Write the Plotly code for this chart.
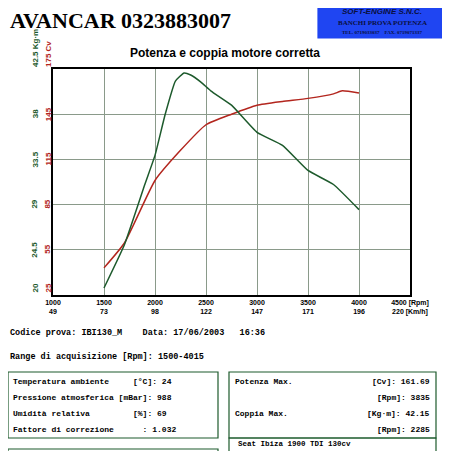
import plotly.graph_objects as go

# dati
rpm_cv = [1500, 1700, 2000, 2250, 2500, 2750, 3000, 3250, 3500, 3750, 3835, 4000]
potenza_cv = [43, 59.5, 101, 121, 138, 145, 151, 153.5, 155.5, 158.5, 160.5, 159]
rpm_kgm = [1500, 1700, 1900, 2000, 2100, 2200, 2285, 2350, 2450, 2550, 2750, 3000, 3250, 3500, 3750, 4000]
coppia_kgm = [20.7, 25, 31, 33.9, 38, 41.3, 42.1, 41.9, 41.2, 40.3, 38.9, 36.2, 34.9, 32.4, 31, 28.5]

x_ticks = [1000, 1500, 2000, 2500, 3000, 3500, 4000, 4500]
x_labels = ["1000<br>49", "1500<br>73", "2000<br>98", "2500<br>122", "3000<br>147",
            "3500<br>171", "4000<br>196", "4500 [Rpm]<br>220 [Km/h]"]
cv_ticks = [25, 55, 85, 115, 145, 175]
kgm_labels = ["20", "24.5", "29", "33.5", "38", "42.5 Kg·m"]

VERDE = "#1d5a2c"
ROSSO = "#b3261e"
MONO = "Liberation Mono"

fig = go.Figure()
fig.add_trace(go.Scatter(x=rpm_cv, y=potenza_cv, mode="lines", line=dict(color=ROSSO, width=1.5,
                         shape="spline", smoothing=0.5)))
fig.add_trace(go.Scatter(x=rpm_kgm, y=coppia_kgm, mode="lines", yaxis="y2",
                         line=dict(color=VERDE, width=1.5, shape="spline", smoothing=0.4)))

# la pagina ha un margine di 8px: si lavora in pixel della pagina e si sottrae
O = 8
FW, FH = 450 - O, 451 - O
L, T, W, H = 53, 69, 357, 226
def px(x): return (x - L) / W
def py(y): return (T + H - y) / H

fig.update_layout(
    width=FW, height=FH, showlegend=False,
    margin=dict(l=L - O, r=FW - (L - O) - W, t=T - O, b=FH - (T - O) - H),
    paper_bgcolor="white", plot_bgcolor="white",
    xaxis=dict(range=[1000, 4500], tickvals=x_ticks, ticktext=[f"<b>{t}</b>" for t in x_labels], showgrid=True,
               gridcolor="#8a9a8a", gridwidth=0.8, showline=True, linecolor="black", linewidth=1.5,
               mirror=True, tickfont=dict(family="Arial", size=7, color="black"), ticks=""),
    yaxis=dict(range=[25, 175], tickvals=cv_ticks, showticklabels=False, showgrid=True,
               gridcolor="#8a9a8a", gridwidth=0.8, showline=True, linecolor="black", linewidth=1.5,
               mirror=True, zeroline=False),
    yaxis2=dict(range=[20, 42.5], overlaying="y", visible=False),
)

anns = []
for v in cv_ticks:
    lab = f"{v} Cv" if v == 175 else str(v)
    anns.append(dict(x=px(48), y=v, xref="paper", yref="y", text=f"<b>{lab}</b>", textangle=-90, showarrow=False,
                     font=dict(family="Arial", size=8, color=ROSSO), xanchor="center",
                     yanchor="middle" if v not in (25, 175) else "bottom"))
for v, lab in zip(cv_ticks, kgm_labels):
    anns.append(dict(x=px(35), y=v, xref="paper", yref="y", text=f"<b>{lab}</b>", textangle=-90, showarrow=False,
                     font=dict(family="Arial", size=8, color=VERDE), xanchor="center",
                     yanchor="middle" if v not in (25, 175) else "bottom"))

def testo(x, y, t, size=8.5, **kw):
    anns.append(dict(x=px(x), y=py(y), xref="paper", yref="paper", text=t, showarrow=False,
                     xanchor=kw.get("xa", "left"), yanchor="middle",
                     font=dict(family=kw.get("fam", MONO), size=size, color=kw.get("col", "black"))))

testo(8, 20, "<b>AVANCAR 0323883007</b>", 22, fam="Liberation Serif")
testo(382, 12, "<b><i>SOFT-ENGINE S.N.C.</i></b>", 8, fam="Arial", xa="center", col="#0a1040")
testo(382, 23, "<b>BANCHI PROVA POTENZA</b>", 7, fam="Liberation Serif", xa="center", col="#0a1040")
testo(382, 32, "<b>TEL. 0719033037    FAX. 0719071337</b>", 5, fam="Liberation Serif", xa="center", col="#0a1040")
testo(225, 53, "<b>Potenza e coppia motore corretta</b>", 12, fam="Arial", xa="center")
testo(8, 333, "<b>Codice prova: IBI130_M    Data: 17/06/2003   16:36</b>")
testo(8, 357, "<b>Range di acquisizione [Rpm]: 1500-4015</b>")
sx = [("Temperatura ambiente     [°C]: 24", 381), ("Pressione atmosferica [mBar]: 988", 397),
      ("Umidità relativa         [%]: 69", 413), ("Fattore di correzione      : 1.032", 429)]
for t, y in sx:
    testo(11, y, f"<b>{t}</b>", 8)
dx = [("Potenza Max.", "[Cv]: 161.69", 381), ("", "[Rpm]: 3835", 397),
      ("Coppia Max.", "[Kg·m]: 42.15", 413), ("", "[Rpm]: 2285", 429)]
for a, b, y in dx:
    if a:
        testo(233, y, f"<b>{a}</b>", 8)
    testo(432, y, f"<b>{b}</b>", 8, xa="right")
testo(236, 444, "<b>Seat Ibiza 1900 TDI 130cv</b>", 7.5)
fig.update_layout(annotations=anns)

def box(x0, y0, x1, y1, fill="rgba(0,0,0,0)", lc=VERDE):
    fig.add_shape(type="rect", xref="paper", yref="paper", x0=px(x0), x1=px(x1), y0=py(y0), y1=py(y1),
                  line=dict(color=lc, width=1.2), fillcolor=fill, layer="below")

box(318, 3, 446, 38, fill="#1f45f2", lc="#1f45f2")
box(8, 372, 218, 438)
box(229, 372, 436, 438)
box(229, 438, 436, 460)
box(8, 449, 218, 470)

fig.write_html("out.html")
